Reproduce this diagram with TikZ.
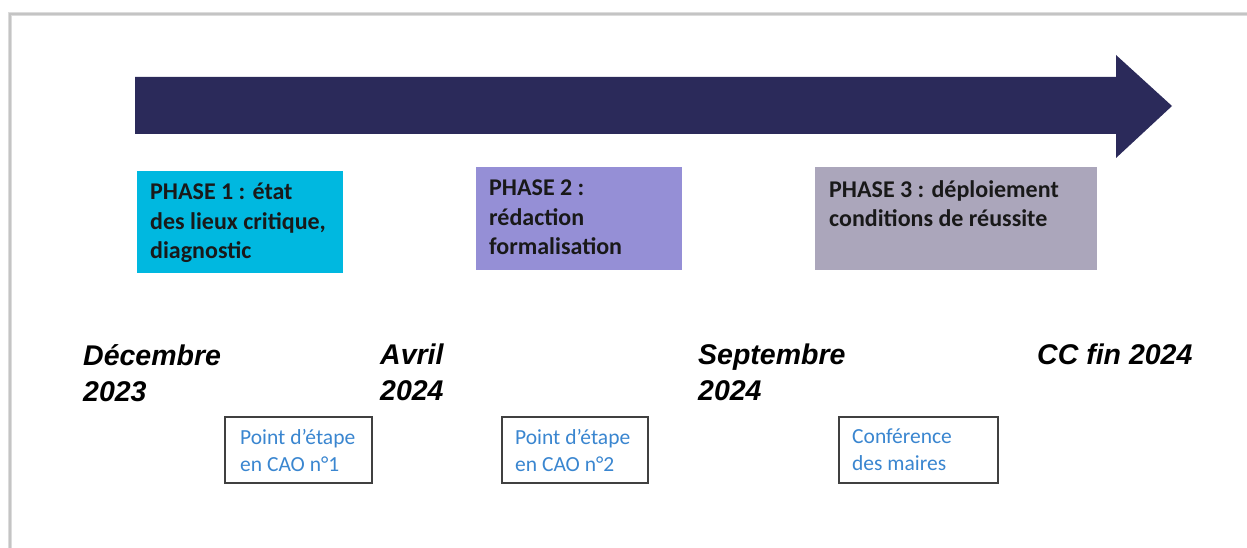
\documentclass[tikz,border=0pt]{standalone}
\usepackage{fontspec}
\setmainfont{Carlito}
\newfontfamily\datefont{Liberation Sans}
\definecolor{arrowcol}{HTML}{2B2A5A}
\definecolor{phaseA}{HTML}{00B8E0}
\definecolor{phaseB}{HTML}{958FD6}
\definecolor{phaseC}{HTML}{ABA6BB}
\definecolor{stepblue}{HTML}{3A86D0}
\definecolor{framegray}{HTML}{C4C4C4}
\definecolor{boxgray}{HTML}{404040}
\begin{document}
\begin{tikzpicture}[x=1pt,y=-1pt,
  phasebox/.style={draw=none,anchor=north west,inner sep=0pt},
  phasetext/.style={anchor=north west,inner sep=0pt,align=left,
     font=\fontsize{24}{29.5}\selectfont\bfseries,text=black!90},
  datetext/.style={anchor=north west,inner sep=0pt,align=left,
     font=\datefont\fontsize{28.5}{36}\selectfont\bfseries\itshape,text=black},
  stepbox/.style={draw=boxgray,line width=1.6pt,anchor=north west,inner sep=0pt},
  steptext/.style={anchor=north west,inner sep=0pt,align=left,
     font=\fontsize{21.5}{27}\selectfont,text=stepblue}]
\useasboundingbox (0,0) rectangle (1247,548);
\fill[white] (0,0) rectangle (1247,548);
% frame
\draw[framegray!60,line width=4pt] (10,550) -- (10,14) -- (1250,14);
\draw[framegray,line width=1.5pt] (10,550) -- (10,14) -- (1250,14);
% big arrow
\fill[arrowcol] (135,77) -- (1116,77) -- (1116,55) -- (1172,106) -- (1116,158) -- (1116,134) -- (135,134) -- cycle;
% phase boxes
\node[phasebox,fill=phaseA,minimum width=206pt,minimum height=102pt] (p1) at (137,171) {};
\node[phasebox,fill=phaseB,minimum width=206pt,minimum height=103pt] (p2) at (476,167) {};
\node[phasebox,fill=phaseC,minimum width=282pt,minimum height=103pt] (p3) at (815,167) {};
\node[phasetext] (t1) at (150,183) {PHASE 1 : état\\des lieux critique,\\diagnostic};
\node[phasetext] (t2) at (489,180) {PHASE 2 :\\rédaction\\formalisation};
\node[phasetext] (t3) at (829,180) {PHASE 3 : déploiement\\conditions de réussite};
% dates
\node[datetext] (d1) at (83,344) {Décembre\\2023};
\node[datetext] (d2) at (380,344) {Avril\\2024};
\node[datetext] (d3) at (698,344) {Septembre\\2024};
\node[datetext] (d4) at (1037,344) {CC fin 2024};
% step boxes
\node[stepbox,minimum width=147pt,minimum height=66pt] (s1) at (224,416) {};
\node[stepbox,minimum width=146pt,minimum height=66pt] (s2) at (501,416) {};
\node[stepbox,minimum width=159pt,minimum height=66pt] (s3) at (838,416) {};
\node[steptext] (u1) at (240,429) {Point d’étape\\en CAO n°1};
\node[steptext] (u2) at (515,429) {Point d’étape\\en CAO n°2};
\node[steptext] (u3) at (852,429) {Conférence\\des maires};
\end{tikzpicture}
\end{document}
